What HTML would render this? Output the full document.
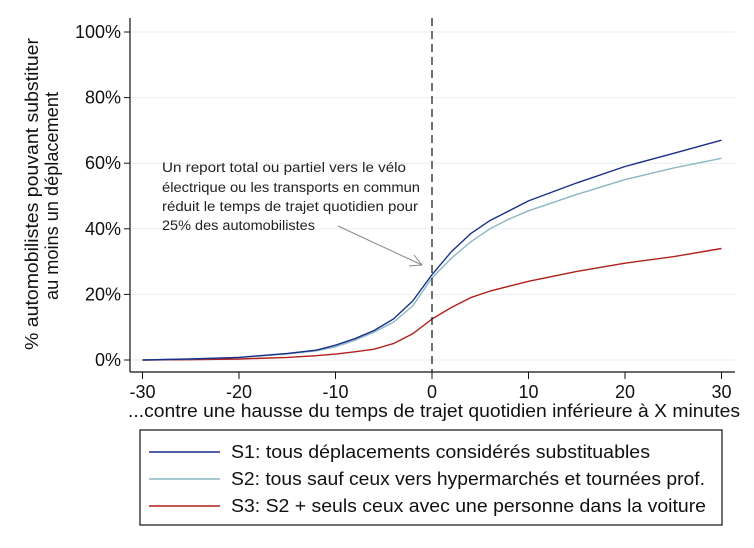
<!DOCTYPE html>
<html><head><meta charset="utf-8"><style>
body{margin:0;background:#fff;}
svg{display:block;font-family:"Liberation Sans",sans-serif;}
</style></head><body>
<svg id="c" width="754" height="548" viewBox="0 0 754 548">
<rect width="754" height="548" fill="#fff"/>
<g id="grid"></g><g id="axes"></g><g id="series"></g>
<line x1="432" y1="18" x2="432" y2="372" stroke="#222" stroke-width="1.3" stroke-dasharray="8,5"/>
<g font-family="Liberation Sans, DejaVu Sans, sans-serif" font-size="13.5" fill="#222">
<text x="162" y="172" textLength="244" lengthAdjust="spacingAndGlyphs">Un report total ou partiel vers le vélo</text>
<text x="162" y="192" textLength="258" lengthAdjust="spacingAndGlyphs">électrique ou les transports en commun</text>
<text x="162" y="211" textLength="256" lengthAdjust="spacingAndGlyphs">réduit le temps de trajet quotidien pour</text>
<text x="162" y="230" textLength="153" lengthAdjust="spacingAndGlyphs">25% des automobilistes</text></g>
<g stroke="#888" fill="none" stroke-width="1">
<line x1="338" y1="226" x2="422" y2="265"/><polyline points="414,255 422,265 409,266"/></g>
<g font-size="18" fill="#111">
<text transform="translate(38,194) rotate(-90)" text-anchor="middle" textLength="312" lengthAdjust="spacingAndGlyphs">% automobilistes pouvant substituer</text>
<text transform="translate(58,196) rotate(-90)" text-anchor="middle" textLength="208" lengthAdjust="spacingAndGlyphs">au moins un déplacement</text></g>
<text x="128" y="417" font-size="18" fill="#111" textLength="612" lengthAdjust="spacingAndGlyphs">...contre une hausse du temps de trajet quotidien inférieure à X minutes</text>
<rect x="140" y="430" width="582" height="95" fill="#fff" stroke="#111" stroke-width="1.2"/>
<g><line x1="149" y1="452" x2="220" y2="452" stroke="#1a2f8a" stroke-width="1.5"/><text x="231" y="458" font-size="18" fill="#111" textLength="419" lengthAdjust="spacingAndGlyphs">S1: tous déplacements considérés substituables</text></g>
<g><line x1="149" y1="479" x2="220" y2="479" stroke="#8ab8c2" stroke-width="1.5"/><text x="231" y="485" font-size="18" fill="#111" textLength="474" lengthAdjust="spacingAndGlyphs">S2: tous sauf ceux vers hypermarchés et tournées prof.</text></g>
<g><line x1="149" y1="506" x2="220" y2="506" stroke="#b0201a" stroke-width="1.5"/><text x="231" y="512" font-size="18" fill="#111" textLength="475" lengthAdjust="spacingAndGlyphs">S3: S2 + seuls ceux avec une personne dans la voiture</text></g>
</svg>
<script>
const xVals=[-30,-25,-20,-15,-12,-10,-8,-6,-4,-2,0,2,4,6,8,10,15,20,25,30];
const s1=[0,0.3,0.8,2,3,4.5,6.5,9,12.5,18,26,33,38.5,42.5,45.5,48.5,54,59,63,67];
const s2=[0,0.3,0.8,1.8,2.8,4,6,8.5,11.5,16.5,25,31,36,40,43,45.5,50.5,55,58.5,61.5];
const s3=[0,0.1,0.3,0.8,1.3,1.8,2.5,3.3,5,8,12.5,16,19,21,22.5,24,27,29.5,31.5,34];
const xTicks=[-30,-20,-10,0,10,20,30];
const yTicks=[0,20,40,60,80,100];
const NS="http://www.w3.org/2000/svg";
const X=v=>432+v*9.65;
const Y=v=>360-v*3.28;
function mk(t,a,p){const e=document.createElementNS(NS,t);for(const k in a)e.setAttribute(k,a[k]);p.appendChild(e);return e;}
const grid=document.getElementById('grid'),axes=document.getElementById('axes'),ser=document.getElementById('series');
yTicks.forEach(v=>{
 const g=mk('line',{x1:131,x2:735,y1:Y(v),y2:Y(v),stroke:'#e8eef2','stroke-width':1},grid);
 
 
 const t=mk('line',{x1:124,x2:130,y1:Y(v),y2:Y(v),stroke:'#111'},axes);
 
 
 const l=mk('text',{x:121,y:Y(v)+6,'text-anchor':'end','font-size':18,fill:'#111'},axes);
 l.textContent=v+'%';
 
 
});
xTicks.forEach(v=>{
 const t=mk('line',{x1:X(v),x2:X(v),y1:372,y2:379,stroke:'#111'},axes);
 
 
 const l=mk('text',{x:X(v),y:398,'text-anchor':'middle','font-size':18,fill:'#111'},axes);
 l.textContent=v;
 
 
});
const ya=mk('line',{x1:130,x2:130,y1:18,y2:372,stroke:'#111','stroke-width':1.2},axes);


const xa=mk('line',{x1:130,x2:735,y1:372,y2:372,stroke:'#111','stroke-width':1.2},axes);


function line(vals,col,name){
 const d=vals.map((v,i)=>(i?'L':'M')+X(xVals[i]).toFixed(1)+','+Y(v).toFixed(1)).join(' ');
 const p=mk('path',{d:d,fill:'none',stroke:col,'stroke-width':1.4,'stroke-linejoin':'round'},ser);
 
 
}
line(s3,'#b0201a','series-s3-line');
line(s2,'#8ab8c2','series-s2-line');
line(s1,'#1a2f8a','series-s1-line');
</script>
</body></html>
